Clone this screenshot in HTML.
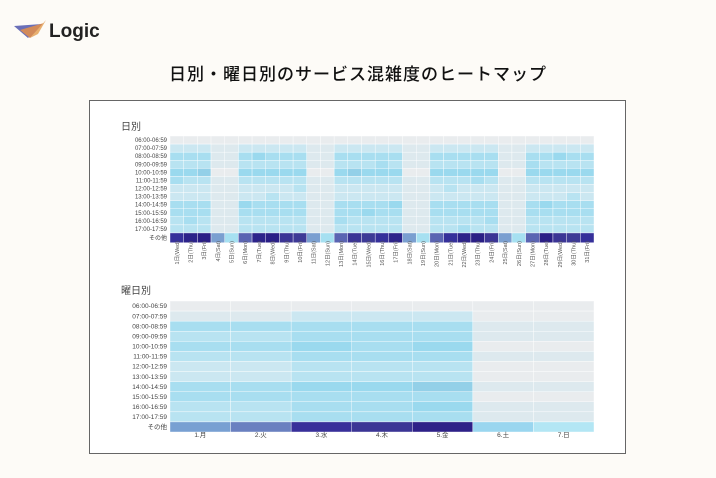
<!DOCTYPE html>
<html><head><meta charset="utf-8"><style>
body{margin:0;width:716px;height:478px;background:#fdfbf7;font-family:"Liberation Sans","Noto Sans CJK JP",sans-serif;position:relative;overflow:hidden}
#logo{position:absolute;left:14px;top:18px}
#title{position:absolute;left:0;width:716px;top:60px;text-align:center;font-size:17px;color:#111;letter-spacing:1px;font-family:"Noto Sans CJK JP",sans-serif;font-weight:500}
#box{position:absolute;left:89px;top:100px;width:537px;height:354px;background:#fff;border:1px solid #666;box-sizing:border-box}
</style></head><body>
<svg id="logo" width="100" height="26" viewBox="0 0 100 26">
<polygon points="0,8 28,6 14,20" fill="#6a6fb8"/>
<polygon points="6,12 30,5 16,20" fill="#d28a5a"/>
<polygon points="16,20 32,2 24,16" fill="#e8b070"/>
<text x="35" y="19" font-size="19" font-weight="bold" fill="#222" font-family="Liberation Sans,sans-serif">Logic</text>
</svg>
<div id="title">日別・曜日別のサービス混雑度のヒートマップ</div>
<div id="box"></div>
<svg id="hm" width="716" height="478" style="position:absolute;left:0;top:0" font-family="Liberation Sans,'Noto Sans CJK JP',sans-serif"></svg>
<script>
const s=document.getElementById('hm');let h='';
const rows=['06:00-06:59','07:00-07:59','08:00-08:59','09:00-09:59','10:00-10:59','11:00-11:59','12:00-12:59','13:00-13:59','14:00-14:59','15:00-15:59','16:00-16:59','17:00-17:59','その他'];
const C=['#e9ecee','#dde9ee','#cbe7f1','#b8e3f1','#a8def0','#9ad9ee','#93d0e8'];
const wd=[0,2,4,3,5,3,2,2,4,4,3,3];
const we=[0,1,1,1,0,1,1,1,1,1,1,1];
const dn=['Mon','Tue','Wed','Thu','Fri','Sat','Sun'];
function txt(x,y,t,a,sz,extra){h+=`<text x="${x}" y="${y}" font-size="${sz}" text-anchor="${a}" fill="#444" ${extra||''}>${t}</text>`;}
txt(121,130,'日別','start',10,'fill="#333"');
txt(121,294,'曜日別','start',10,'fill="#333"');
let x0=170,x1=594,y0=136,rh=(237-136)/12.5;
let cw=(x1-x0)/31;
const dark=['#3d3a96','#35309a','#2c238a','#2a1f86','#3b3595'];
for(let d=1;d<=31;d++){let w=(d+1)%7;let x=x0+(d-1)*cw;
 for(let r=0;r<12;r++){let lv=w>=5?we[r]:wd[r];if(w<5&&r>1&&((d*7+r*3)%11==0))lv=Math.min(6,lv+1);
  h+=`<rect x="${x}" y="${y0+r*rh}" width="${cw}" height="${rh}" fill="${C[lv]}" stroke="#fff" stroke-width="0.4"/>`;}
 let dc=w==5?'#7a9fd0':w==6?'#a6e0f1':w==0?'#5a64b2':dark[d%5];
 h+=`<rect x="${x}" y="${y0+12*rh}" width="${cw}" height="${rh*1.2}" fill="${dc}" stroke="#fff" stroke-width="0.4"/>`;
 h+=`<text transform="translate(${x+cw/2+2},241) rotate(-90)" font-size="5.5" text-anchor="end" fill="#555">${d}日(${dn[w]})</text>`;}
rows.forEach((r,i)=>txt(167,y0+i*rh+(i==12?rh*0.6:rh/2)+2,r,'end',6));
y0=301;rh=(432-301)/13;cw=(594-170)/7;
const bl=[[0,1,4,3,4,3,2,2,4,4,3,3],[0,1,4,3,4,3,2,2,4,4,3,3],[0,2,4,4,5,4,3,3,5,4,4,4],[0,2,4,4,4,4,3,3,5,4,4,4],[0,2,4,4,5,4,3,3,6,4,5,4],[0,0,1,1,0,1,0,0,1,0,1,1],[0,0,1,1,0,1,0,0,1,0,1,1]];
const bd=['#78a0d2','#6a80c0','#38309a','#3b3595','#2e2188','#9ad6ef','#b3e6f4'];
const bn=['1.月','2.火','3.水','4.木','5.金','6.土','7.日'];
for(let c=0;c<7;c++){let x=170+c*cw;
 for(let r=0;r<12;r++)h+=`<rect x="${x}" y="${y0+r*rh}" width="${cw}" height="${rh}" fill="${C[bl[c][r]]}" stroke="#fff" stroke-width="0.4"/>`;
 h+=`<rect x="${x}" y="${y0+12*rh}" width="${cw}" height="${rh}" fill="${bd[c]}" stroke="#fff" stroke-width="0.4"/>`;
 txt(x+cw/2,437,bn[c],'middle',6.5);}
rows.forEach((r,i)=>txt(167,y0+i*rh+rh/2+2.2,r,'end',6.5));
s.innerHTML=h;
</script>
</body></html>
